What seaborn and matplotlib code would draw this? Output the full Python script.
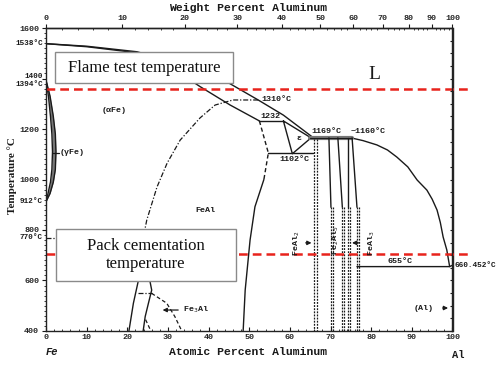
import numpy as np
import matplotlib
matplotlib.use('Agg')
import matplotlib.pyplot as plt
import seaborn as sns
from matplotlib.patches import Rectangle
from matplotlib.ticker import FixedLocator, MultipleLocator

# ---------------- data (atomic % Al, temperature degC) ----------------
liq_fe_x = [0, 10, 22.4, 35, 45.1, 52.2, 58.4, 65.4]
liq_fe_t = [1538, 1528, 1506, 1450, 1381, 1315, 1255, 1170]
sol_fe_x = [0, 10, 22.4, 30, 37.9, 45.3, 52.5]
sol_fe_t = [1538, 1526, 1502, 1452, 1368, 1295, 1232]
liq_al_x = [75.3, 78.0, 81.4, 84.0, 86.3, 89.0, 91.3, 93.7, 95.0, 96.2, 97.0, 97.7, 98.6, 99.3]
liq_al_t = [1164, 1154, 1137, 1117, 1089, 1050, 998, 958, 922, 879, 830, 772, 721, 655]
gam_out_x = [0, 1.0, 1.8, 2.3, 2.45, 2.3, 1.8, 1.0, 0]
gam_out_t = [1394, 1330, 1250, 1180, 1110, 1040, 990, 945, 912]
gam_in_x = [0, 0.6, 1.1, 1.45, 1.6, 1.45, 1.1, 0.5, 0]
gam_in_t = [1394, 1330, 1250, 1180, 1110, 1040, 990, 945, 912]
b2_x = [52.2, 46.0, 41.6, 37.9, 33.0, 29.8, 27.3, 24.8, 24.4, 24.6, 25.6]
b2_t = [1315, 1315, 1295, 1244, 1156, 1065, 970, 840, 808, 700, 595]
fe3al_left_x = [22.7, 21.5, 20.4]
fe3al_left_t = [598, 510, 400]
fe3al_right_x = [25.6, 26.0, 25.2, 24.4, 23.9]
fe3al_right_t = [595, 562, 510, 457, 400]
fe3al_top_x = [22.7, 26.0]
fe3al_top_t = [549, 549]
d03_x = [26.0, 29.7, 31.7, 33.4]
d03_t = [549, 510, 457, 400]
d03_small_x = [24.5, 25.8]
d03_small_t = [445, 400]
feal_dash_x = [52.5, 54.7, 53.6]
feal_dash_t = [1232, 1105, 1000]
feal_solid_x = [53.6, 51.4, 50.2, 49.0, 48.5]
feal_solid_t = [1000, 892, 760, 562, 400]
eps_x = [58.4, 60.6, 65.2, 58.4]
eps_t = [1232, 1102, 1165, 1232]
h1232_x = [52.5, 58.4]
h1102_x = [54.7, 65.8]
h1169_x = [65.0, 75.3]
h655_x = [76.5, 99.3, 100]
h655_t = [655, 655, 660.452]
# intermetallic phase boundaries: (x top, x at 890 degC)
im_bounds = [(69.6, 70.1), (71.8, 72.9), (74.3, 74.3), (75.3, 76.5)]
feal2_bounds = [66.0, 66.6]
flame_T = 1357
pack_T = 705

y_ticks = [400, 600, 800, 1000, 1200, 1400, 1600]
y_tick_labels = ['400', '600', '800', '1000', '1200', '', '1600']
x_ticks = [0, 10, 20, 30, 40, 50, 60, 70, 80, 90, 100]
wt_ticks = [0, 10, 20, 30, 40, 50, 60, 70, 80, 90, 100]
special_T = [1538, 1409, 1378, 912, 770]
special_lbl = ['1538°C', '1400', '1394°C', '912°C', '770°C']

# ---------------- styling ----------------
sns.set_theme(style='white')
plt.rcParams['font.family'] = ['Liberation Mono', 'DejaVu Sans']
plt.rcParams['axes.linewidth'] = 1.0

fig = plt.figure(figsize=(5, 3.65), dpi=100)
ax = fig.add_axes([0.092, 0.0932, 0.813, 0.830])
ax.set_xlim(0, 100)
ax.set_ylim(400, 1600)
for s in ax.spines.values():
    s.set_color('#222222')

K = '#1a1a1a'


def line(x, t, ls='-', lw=1.0, color=K, **kw):
    sns.lineplot(x=x, y=t, ax=ax, sort=False, estimator=None, color=color,
                 lw=lw, linestyle=ls, legend=False, **kw)


line(liq_fe_x, liq_fe_t)
line(sol_fe_x, sol_fe_t)
line(liq_al_x, liq_al_t)
ax.fill_betweenx(gam_out_t, gam_in_x, gam_out_x, color='#777777', lw=0)
line(gam_out_x, gam_out_t, lw=1.0)
line(gam_in_x, gam_in_t, lw=1.0)
line([0, 12], [770, 770], ls=(0, (4, 1.5, 1, 1.5)), lw=0.9)
line(b2_x, b2_t, ls=(0, (4, 1.5, 1, 1.5)), lw=0.9)
line(fe3al_left_x, fe3al_left_t)
line(fe3al_right_x, fe3al_right_t)
line(fe3al_top_x, fe3al_top_t, ls=(0, (4, 1.5, 1, 1.5)), lw=0.9)
line(d03_x, d03_t, ls=(0, (3, 2)), lw=0.9)
line(d03_small_x, d03_small_t, ls=(0, (3, 2)), lw=0.9)
line(feal_dash_x, feal_dash_t, ls=(0, (3, 2)), lw=1.0)
line(feal_solid_x, feal_solid_t)
line(eps_x, eps_t)
line(h1232_x, [1232, 1232])
line(h1102_x, [1104, 1104])
line(h1169_x, [1165, 1165], lw=3, color='#777777')
line(h1169_x, [1165, 1165], lw=0.8)
line(h655_x, h655_t)
for xt, xb in im_bounds:
    line([xt, xb], [1165, 890])
    line([xb, xb], [890, 400], ls=(0, (1.5, 1)), lw=0.9)
    line([xb + 0.45, xb + 0.45], [890, 400], ls=(0, (1.5, 1)), lw=0.9)
for xb in feal2_bounds:
    line([xb, xb], [1160, 400], ls=(0, (1.5, 1)), lw=0.9)

# red reference lines
RED = '#e8231c'
line([0, 103.8], [flame_T, flame_T], ls=(0, (3.5, 2)), lw=1.8, color=RED, clip_on=False)
line([0, 103.8], [pack_T, pack_T], ls=(0, (3.5, 2)), lw=1.8, color=RED, clip_on=False)

# ---------------- labels inside ----------------
fs = 6
tkw = dict(fontsize=fs, fontweight='bold', color=K, family=['Liberation Mono', 'DejaVu Sans'])
ax.text(53, 1318, '1310°C', ha='left', va='center', **tkw)
ax.text(52.8, 1248, '1232', ha='left', va='center', **tkw)
ax.text(57.5, 1080, '1102°C', ha='left', va='center', **tkw)
ax.text(65.3, 1192, '1169°C', ha='left', va='center', **tkw)
ax.text(75.0, 1192, '~1160°C', ha='left', va='center', **tkw)
ax.text(84.0, 675, '655°C', ha='left', va='center', **tkw)
ax.text(100.6, 660, '660.452°C', ha='left', va='center', clip_on=False,
        fontsize=5.6, fontweight='bold', color=K, family=['Liberation Mono', 'DejaVu Sans'])
ax.text(16.8, 1275, '(αFe)', ha='center', va='center', **tkw)
ax.text(3.4, 1105, '(γFe)', ha='left', va='center', **tkw)
line([1.6, 3.2], [1105, 1105], lw=0.9)
ax.text(39.2, 879, 'FeAl', ha='center', va='center', **tkw)
ax.text(62.2, 1162, 'ε', ha='center', va='center', **tkw)
ax.text(33.6, 483, 'Fe$_3$Al', ha='left', va='center', **tkw)
ax.annotate('', xy=(28.0, 483), xytext=(33.2, 483),
            arrowprops=dict(arrowstyle='-|>', color=K, lw=0.9, mutation_scale=6))
ax.text(93.0, 491, '(Al)', ha='center', va='center', **tkw)
ax.annotate('', xy=(99.6, 491), xytext=(96.9, 491),
            arrowprops=dict(arrowstyle='-|>', color=K, lw=0.9, mutation_scale=6))
ax.text(61.6, 749, 'FeAl$_2$', ha='center', va='center', rotation=90, **tkw)
ax.annotate('', xy=(66.0, 749), xytext=(63.2, 749),
            arrowprops=dict(arrowstyle='-|>', color=K, lw=0.9, mutation_scale=6))
ax.text(71.3, 760, 'Fe$_2$Al$_5$', ha='center', va='center', rotation=90, **tkw)
ax.text(80.2, 749, 'FeAl$_3$', ha='center', va='center', rotation=90, **tkw)
ax.annotate('', xy=(74.6, 749), xytext=(77.7, 749),
            arrowprops=dict(arrowstyle='-|>', color=K, lw=0.9, mutation_scale=6))
ax.text(80.7, 1414, 'L', ha='center', va='center', fontsize=14,
        family=['Liberation Serif'], color=K)

# special temperatures on the left
for T, lb in zip(special_T, special_lbl):
    ax.text(-0.008, T, lb, transform=ax.get_yaxis_transform(), ha='right', va='center',
            fontsize=5.5, fontweight='bold', color=K, clip_on=False,
            family=['Liberation Mono', 'DejaVu Sans'])

# ---------------- axes / ticks ----------------
ax.set_xticks(x_ticks)
ax.set_yticks(y_ticks)
ax.set_yticklabels(y_tick_labels)
ax.xaxis.set_minor_locator(MultipleLocator(2))
ax.yaxis.set_minor_locator(MultipleLocator(20))
ax.tick_params(axis='both', which='major', labelsize=6, length=3, width=0.8, color=K, pad=2)
ax.tick_params(axis='both', which='minor', length=1.5, width=0.6, color=K)
ax.tick_params(axis='x', which='both', direction='in', bottom=True)
ax.tick_params(axis='y', which='both', direction='out', left=True)
for lab in ax.get_xticklabels() + ax.get_yticklabels():
    lab.set_fontweight('bold')

mm = 55.845
al = 26.982


def at2wt(a):
    a = np.asarray(a, dtype=float)
    return 100 * a * al / (a * al + (100 - a) * mm)


def wt2at(w):
    w = np.asarray(w, dtype=float)
    return 100 * (w / al) / (w / al + (100 - w) / mm)


top = ax.secondary_xaxis('top', functions=(at2wt, wt2at))
top.set_xticks(wt_ticks)
top.xaxis.set_minor_locator(FixedLocator(np.arange(0, 101, 2)))
top.tick_params(which='major', labelsize=6, length=3, width=0.8, color=K, direction='out', pad=1)
top.tick_params(which='minor', length=1.5, width=0.6, color=K, direction='in')
for lab in top.get_xticklabels():
    lab.set_fontweight('bold')

right = ax.secondary_yaxis('right')
right.set_yticks(y_ticks)
right.yaxis.set_minor_locator(MultipleLocator(50))
right.tick_params(which='both', direction='in', labelright=False, color=K, length=2.5, width=0.8)
right.set_yticklabels([])

fig.text(0.497, 0.978, 'Weight Percent Aluminum', ha='center', va='center',
         fontsize=8.2, fontweight='bold', color=K)
fig.text(0.497, 0.036, 'Atomic Percent Aluminum', ha='center', va='center',
         fontsize=8.2, fontweight='bold', color=K)
fig.text(0.104, 0.036, 'Fe', ha='center', va='center', fontsize=7.5, fontweight='bold',
         color=K, style='italic')
fig.text(0.916, 0.028, 'Al', ha='center', va='center', fontsize=7.5, fontweight='bold', color=K)
fig.text(0.024, 0.52, 'Temperature °C', ha='center', va='center', rotation=90,
         fontsize=8, fontweight='bold', color=K, family=['Liberation Serif'])

# ---------------- annotation boxes ----------------
def box(x0, y0, x1, y1, text):
    fig.add_artist(Rectangle((x0 / 500, 1 - y1 / 365), (x1 - x0) / 500, (y1 - y0) / 365,
                             transform=fig.transFigure, facecolor='white',
                             edgecolor='#8a8a8a', lw=1.0, zorder=10))
    fig.text((x0 + x1) / 2 / 500, 1 - (y0 + y1) / 2 / 365, text, ha='center', va='center',
             fontsize=12, family=['Liberation Serif'], color='#111111', zorder=11,
             linespacing=1.15)


box(55, 52, 233, 83, 'Flame test temperature')
box(56, 229, 236, 281, 'Pack cementation\ntemperature')

fig.savefig('out.png', dpi=100)
